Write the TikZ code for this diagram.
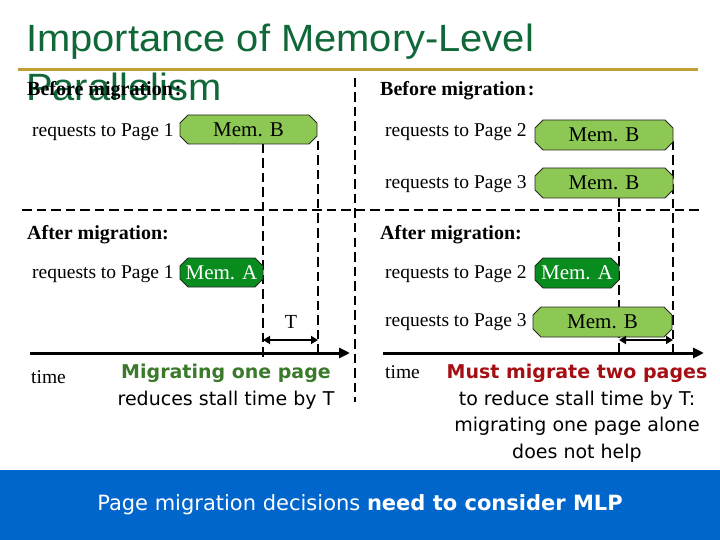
\documentclass[tikz,border=0pt]{standalone}
\usepackage{fontspec}
\setmainfont{Liberation Serif}
\newfontfamily\arialf{Liberation Sans}
\newfontfamily\verdf{DejaVu Sans}
\usetikzlibrary{arrows.meta}
\definecolor{titlegreen}{RGB}{16,104,56}
\definecolor{goldline}{RGB}{190,160,52}
\definecolor{lightbox}{RGB}{141,200,84}
\definecolor{darkbox}{RGB}{8,140,30}
\definecolor{msggreen}{RGB}{58,122,42}
\definecolor{msgred}{RGB}{165,15,20}
\definecolor{banner}{RGB}{0,102,204}
\newcommand\membox[8]{%
  \filldraw[fill=#6, draw=black!85, line width=0.8pt]
    (#2+8,#3) -- (#4-8,#3) -- (#4,#3+8) -- (#4,#5-8) -- (#4-8,#5)
    -- (#2+8,#5) -- (#2,#5-8) -- (#2,#3+8) -- cycle;
  \node[memtext, text=#7, minimum width={#4pt-#2pt}, minimum height={#5pt-#3pt}]
    (#1) at ({(#2+#4)/2},{(#3+#5)/2}) {#8};
}
\begin{document}
\begin{tikzpicture}[x=1pt,y=-1pt,
  lbl/.style={anchor=base west, inner sep=0pt, font=\fontsize{19.5}{22}\selectfont},
  hdr/.style={anchor=base west, inner sep=0pt, font=\fontsize{20}{22}\selectfont\bfseries},
  memtext/.style={inner sep=0pt, draw=none, font=\fontsize{21}{24}\selectfont},
  dline/.style={line width=2.8pt, dash pattern=on 9.5pt off 5pt},
  axisarrow/.style={line width=3pt, -{Triangle[length=11pt,width=10pt]}},
  spanarrow/.style={line width=2.5pt, {Triangle[length=7pt,width=8pt]}-{Triangle[length=7pt,width=8pt]}},
  msg/.style={anchor=base, inner sep=0pt, font=\verdf\fontsize{19}{22}\selectfont},
  ttl/.style={anchor=base west, inner sep=0pt, text=titlegreen, font=\arialf\fontsize{38}{42}\selectfont},
]
\useasboundingbox (0,0) rectangle (720,540);
% title
\node[ttl] (title1) at (26,52) {\scalebox{1.05}[1]{Importance of Memory-Level}};
\node[ttl] (title2) at (26,101) {\scalebox{1.05}[1]{Parallelism}};
\coordinate (gl1) at (18,70); \coordinate (gl2) at (698,70);
\draw[goldline, line width=3pt] (gl1) -- (gl2);

% grid of dashed lines
\coordinate (mid1) at (355,78); \coordinate (mid2) at (355,402);
\coordinate (hz1) at (22,210); \coordinate (hz2) at (702,210);
\draw[dline] (hz1) -- (hz2);
\draw[dline] (mid1) -- (mid2);
\coordinate (la1) at (263,144); \coordinate (la2) at (263,357);
\coordinate (lb1) at (318,141); \coordinate (lb2) at (318,357);
\coordinate (ra1) at (619,198); \coordinate (ra2) at (619,357);
\coordinate (rb1) at (673,141); \coordinate (rb2) at (673,357);
\draw[dline] (la1) -- (la2);
\draw[dline] (lb1) -- (lb2);
\draw[dline] (ra1) -- (ra2);
\draw[dline] (rb1) -- (rb2);

% left panel
\node[hdr] (bm1) at (27,96) {Before migration\kern2pt:};
\node[lbl] (rq1) at (32,137) {requests to Page 1};
\membox{mb1}{180}{115}{317}{144}{lightbox}{black}{Mem. B}
\node[hdr] (am1) at (27,240) {After migration:};
\node[lbl] (rq1a) at (32,278) {requests to Page 1};
\membox{ma1}{180}{258}{263}{287}{darkbox}{white}{Mem. A}
\node[anchor=base, inner sep=0pt, font=\fontsize{20}{22}\selectfont] (tl) at (291,328) {T};
\coordinate (sp1) at (263,340); \coordinate (sp2) at (318,340);
\draw[spanarrow] (sp1) -- (sp2);
\coordinate (ax1) at (30,353); \coordinate (ax2) at (350,353);
\draw[axisarrow] (ax1) -- (ax2);
\node[lbl] (tm1) at (31,383) {time};
\node[msg, text=msggreen, font=\verdf\fontsize{19}{22}\selectfont\bfseries] (mg1) at (226,378) {Migrating one page};
\node[msg] (mg2) at (226,405) {reduces stall time by T};

% right panel
\node[hdr] (bm2) at (380,96) {Before migration\kern2pt:};
\node[lbl] (rq2) at (385,137) {requests to Page 2};
\membox{mb2}{535}{120}{673}{150}{lightbox}{black}{Mem. B}
\node[lbl] (rq3) at (385,189) {requests to Page 3};
\membox{mb3}{535}{168}{673}{198}{lightbox}{black}{Mem. B}
\node[hdr] (am2) at (380,240) {After migration:};
\node[lbl] (rq2a) at (385,278) {requests to Page 2};
\membox{ma2}{535}{258}{619}{288}{darkbox}{white}{Mem. A}
\node[lbl] (rq3a) at (385,326) {requests to Page 3};
\membox{mb3a}{533}{307}{672}{337}{lightbox}{black}{Mem. B}
\coordinate (sp3) at (619,340); \coordinate (sp4) at (673,340);
\draw[spanarrow] (sp3) -- (sp4);
\coordinate (ax3) at (383,353); \coordinate (ax4) at (704,353);
\draw[axisarrow] (ax3) -- (ax4);
\node[lbl] (tm2) at (385,378) {time};
\node[msg, text=msgred, font=\verdf\fontsize{19}{22}\selectfont\bfseries] (mr1) at (577,378) {Must migrate two pages};
\node[msg] (mr2) at (577,405) {to reduce stall time by T:};
\node[msg] (mr3) at (577,431) {migrating one page alone};
\node[msg] (mr4) at (577,458) {does not help};

% banner
\fill[banner] (0,470) rectangle (720,540);
\node[anchor=base, inner sep=0pt, text=white, font=\verdf\fontsize{21}{25}\selectfont] (bn) at (360,510) {Page migration decisions \textbf{need to consider MLP}};
\end{tikzpicture}
\end{document}
